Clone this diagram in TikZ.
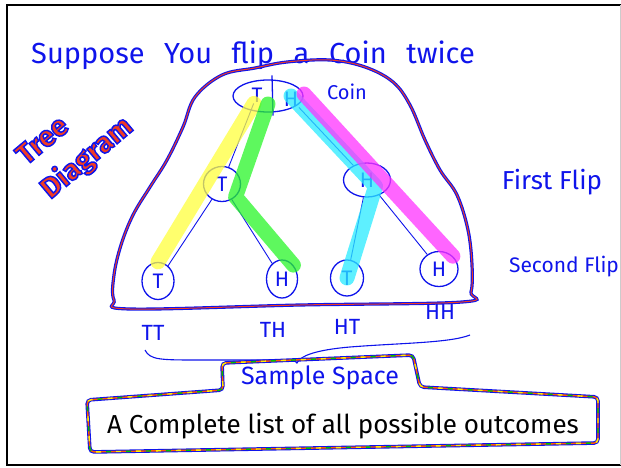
\documentclass[tikz,border=0pt]{standalone}
\usepackage{fontspec}
\setmainfont{Fira Sans}
\newfontface\tdface[RawFeature={embolden=5}]{Fira Sans Bold}
\usetikzlibrary{shapes.geometric, positioning, calc}

\definecolor{ink}{RGB}{15,20,235}
\definecolor{blobred}{RGB}{240,60,35}
\definecolor{hlyellow}{RGB}{255,255,60}
\definecolor{hlgreen}{RGB}{40,245,40}
\definecolor{hlcyan}{RGB}{40,235,255}
\definecolor{hlpink}{RGB}{255,50,255}
\newcommand\widewords{\spaceskip=19.5pt plus 2pt\relax}
\newcommand\inkstroke{\special{pdf:code 0.06 0.08 0.92 RG}}

\begin{document}
\begin{tikzpicture}[x=1pt, y=-1pt,
  hand/.style={text=ink, inner sep=1pt, font=\fontsize{#1}{#1}\selectfont},
  coin/.style={draw=ink, ellipse, line width=1.3pt, inner sep=0pt,
               text=ink, font=\fontsize{21}{21}\selectfont},
  edge/.style={draw=ink, line width=0.9pt},
  marker/.style={line width=15pt, line cap=round, line join=round, opacity=0.75},
  redblue/.style={draw=ink, line width=3.2pt, postaction={draw=blobred, line width=1pt}},
  rainbow/.style={draw=ink, line width=3.6pt, rounded corners=4pt,
                  postaction={draw=orange!70!red, line width=1.4pt},
                  postaction={draw=yellow, line width=1.4pt, dash pattern=on 5pt off 15pt},
                  postaction={draw=green!75!black, line width=1.4pt, dash pattern=on 5pt off 15pt, dash phase=10pt}},
  tdlbl/.style={rotate=40, inner sep=0pt, text=blobred, font=\fontsize{29}{29}\tdface}
]
  \useasboundingbox (0,0) rectangle (621,468);
  \draw[line width=2pt] (621,5) -- (7,5) -- (7,465) -- (621,465);
  \draw[gray!40, line width=1pt] (620,5) -- (620,465);

  \node[hand=29, anchor=base west] (title)
    at (30,64) {\widewords Suppose You flip a Coin twice};

  \node[tdlbl] (tree) at (42,140) {\inkstroke Tree};
  \node[tdlbl] (diag) at (87,158) {\inkstroke Diagram};

  \draw[redblue] plot[smooth cycle, tension=0.6] coordinates {
    (287,62) (330,60) (365,67) (393,82) (410,105) (425,140) (440,170)
    (457,195) (468,230) (472,265) (471,292) (462,302) (300,305) (130,309)
    (114,300) (114,275) (121,245) (133,215) (150,187) (167,160) (183,127)
    (195,97) (222,75) (255,68)};

  \node[coin, minimum width=70pt, minimum height=32pt] (root) at (268,96) {};
  \node[hand=21] (rt) at (257,95) {T};
  \node[hand=21] (rh) at (291,99) {H};
  \draw[ink, line width=1.3pt] ([xshift=4pt,yshift=4pt]root.north) -- ([xshift=5pt,yshift=-3pt]root.south);
  \node[hand=20] (coinlbl) at (347,92) {Coin};

  \node[coin, minimum width=37pt, minimum height=35pt] (m1) at (222,184) {T};
  \node[coin, minimum width=47pt, minimum height=34pt] (m2) at (367,180) {H};

  \node[coin, minimum width=32pt, minimum height=37pt] (l1) at (158,281) {T};
  \node[coin, minimum width=31pt, minimum height=38pt] (l2) at (282,279) {H};
  \node[coin, minimum width=33pt, minimum height=36pt] (l3) at (347,278) {T};
  \node[coin, minimum width=38pt, minimum height=35pt] (l4) at (439,269) {H};

  \draw[edge] (rt) -- (m1);
  \draw[edge] (m1) -- (l1);
  \draw[edge] (m1) -- (l2);
  \draw[edge] (rh) -- (m2);
  \draw[edge] (m2) -- (l3);
  \draw[edge] (m2) -- (l4);

  \draw[marker, hlyellow] ([xshift=-3pt]rt.south) -- (l1.north);
  \draw[marker, hlgreen] ([yshift=-8pt]root.center) -- (m1.south east) -- (l2.north east);
  \draw[marker, hlcyan] ([yshift=3pt]rh.center) -- ($(m2.center)!0.5!(m2.south east)$) -- (l3.center);
  \draw[marker, hlpink] ([xshift=13pt,yshift=5pt]rh.center) -- (l4.north east);

  \node[hand=26] (first) at (552,182) {First Flip};
  \node[hand=21] (second) at (564,267) {Second Flip};

  \node[hand=22] (tt) at (153,333) {TT};
  \node[hand=22] (th) at (273,330) {TH};
  \node[hand=22] (ht) at (347,327) {HT};
  \node[hand=22] (hh) at (440,312) {HH};

  \draw[ink, line width=1.1pt] (145,350) .. controls (150,360) and (160,360) .. (200,360)
    -- (280,360) .. controls (292,360) and (296,361) .. (297,363)
    .. controls (300,356) and (315,350) .. (350,347)
    .. controls (400,343) and (450,343) .. (470,335);

  \draw[rainbow] (223,390) -- (222,363) -- (413,355) -- (420,387) -- (598,397)
    -- (598,443) -- (90,452) -- (87,400) -- cycle;
  \node[hand=25] (space) at (320,378) {Sample Space};
  \node[font=\fontsize{26}{26}\selectfont] (defn) at (343,426) {A Complete list of all possible outcomes};
\end{tikzpicture}
\end{document}
